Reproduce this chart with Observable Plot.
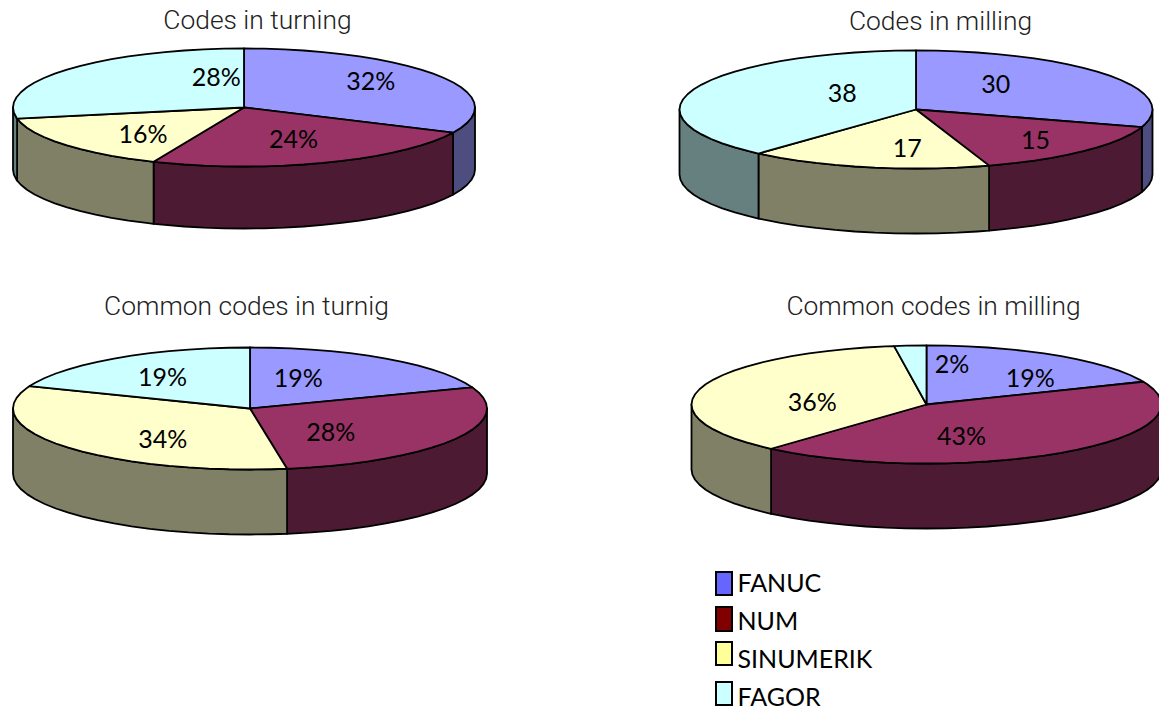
<!DOCTYPE html>
<html>
<head>
<meta charset="utf-8">
<script src="https://cdn.jsdelivr.net/npm/d3@7"></script>
<script src="https://cdn.jsdelivr.net/npm/@observablehq/plot@0.6"></script>
<style>html,body{margin:0;padding:0;background:#fff;overflow:hidden}svg{display:block}</style>
</head>
<body>
<div id="chart"></div>
<script>
// Data: shares read from the slice boundaries; the labels show them rounded
const brands = ["FANUC", "NUM", "SINUMERIK", "FAGOR"];
const turning = [32, 24.4, 15.6, 28];
const milling = [29.8, 15.2, 16.6, 38.4];
const commonTurning = [19.4, 28.1, 33.5, 19];
const commonMilling = [18.7, 42.8, 36.3, 2.2];
const chartTitles = ["Codes in turning", "Codes in milling", "Common codes in turnig", "Common codes in milling"];
const labelSuffix = ["%", "", "%", "%"];

// Styles
const topColors = ["#9999ff", "#993366", "#ffffcc", "#ccffff"];
const wallColors = ["#4d4d80", "#4d1a33", "#808066", "#668080"];
const legendColors = ["#6666ff", "#800000", "#ffff99", "#ccffff"];

// Layout of the four discs
const discs = [
  {cx: 243.5, cy: 107, rx: 231, ry: 59, depth: 62, tx: 257, ty: 20},
  {cx: 915.5, cy: 109, rx: 236.5, ry: 59, depth: 65, tx: 940, ty: 21},
  {cx: 249.5, cy: 408, rx: 237, ry: 61, depth: 65, tx: 246, ty: 306},
  {cx: 926, cy: 404, rx: 235, ry: 59, depth: 65, tx: 933, ty: 306}
];
const labelNudges = [
  [[0, -5], [-4, -3], [16, 3], [88, -5]],
  [[-44, -2], [10, 5], [23, 2], [70, -2]],
  [[-40, 3], [-52, 4], [33, 7], [-1, 2]],
  [[19, 6], [-54, 1], [32, 10], [36, -1]]
];
const legendBoxes = [[572, 595], [607, 631], [642, 665], [682, 705]];
const legendText = [583, 621, 659, 697];
const facetsPerTurn = 72;

const series = [turning, milling, commonTurning, commonMilling];
const polys = [], walls = [], labels = [];

const rad = (t) => t * 2 * Math.PI;
const pt = (d, t, dz = 0) => [d.cx + d.rx * Math.sin(rad(t)), d.cy - d.ry * Math.cos(rad(t)) + dz];
// rim between two turns, on a fixed facet grid so top faces and walls share their corners
const arc = (d, a, b, dz = 0) => {
  const ts = [a];
  for (let k = Math.floor(a * facetsPerTurn) + 1; k / facetsPerTurn < b; k++) ts.push(k / facetsPerTurn);
  ts.push(b);
  return ts.map((t) => pt(d, t, dz));
};

series.forEach((vals, si) => {
  const d = discs[si];
  const total = d3.sum(vals);
  let acc = 0;
  vals.forEach((v, i) => {
    const a = acc / total, b = (acc + v) / total;
    acc += v;
    const top = [[d.cx, d.cy], ...arc(d, a, b), [d.cx, d.cy]];
    top.forEach((p) => polys.push({id: `${si}-${i}`, x: p[0], y: p[1], fill: topColors[i]}));
    // front wall: only the part of the rim between 1/4 and 3/4 of the turn is seen
    const w0 = Math.max(a, 0.25), w1 = Math.min(b, 0.75);
    if (w1 > w0) {
      const up = arc(d, w0, w1);
      const dn = arc(d, w0, w1, d.depth).reverse();
      [...up, ...dn, up[0]].forEach((p) => walls.push({id: `${si}-${i}`, x: p[0], y: p[1], fill: wallColors[i]}));
    }
    // label at the middle of the slice, then nudged
    const mid = (a + b) / 2;
    const [nx, ny] = labelNudges[si][i];
    labels.push({
      x: d.cx + 0.65 * d.rx * Math.sin(rad(mid)) + nx,
      y: d.cy - 0.65 * d.ry * Math.cos(rad(mid)) + ny,
      text: `${Math.round(v)}${labelSuffix[si]}`
    });
  });
});

const titles = chartTitles.map((t, i) => ({text: t, x: discs[i].tx, y: discs[i].ty}));
const legend = brands.map((b, i) => ({
  name: b, fill: legendColors[i], y1: legendBoxes[i][0], y2: legendBoxes[i][1], yt: legendText[i]
}));

const fig = Plot.plot({
  width: 1159,
  height: 710,
  margin: 0,
  x: {domain: [0, 1159], range: [0, 1159], axis: null},
  y: {domain: [0, 710], range: [0, 710], axis: null},
  style: {background: "#fff"},
  marks: [
    Plot.line(walls, {x: "x", y: "y", z: "id", fill: "fill", stroke: "#000", strokeWidth: 1.8}),
    Plot.line(polys, {x: "x", y: "y", z: "id", fill: "fill", stroke: "#000", strokeWidth: 1.8}),
    Plot.text(labels, {x: "x", y: "y", text: "text", fontFamily: "Lato", fontSize: 25, fill: "#000"}),
    Plot.text(titles, {x: "x", y: "y", text: "text", fontFamily: "Roboto", fontWeight: 300, fontSize: 26.4, fill: "#222"}),
    Plot.rect(legend, {x1: () => 716, x2: () => 732, y1: "y1", y2: "y2", fill: "fill", stroke: "#000", strokeWidth: 2}),
    Plot.text(legend, {x: () => 737, y: "yt", text: "name", textAnchor: "start", fontFamily: "Lato", fontSize: 25, fill: "#000"})
  ]
});
document.getElementById("chart").append(fig);
</script>
</body>
</html>
